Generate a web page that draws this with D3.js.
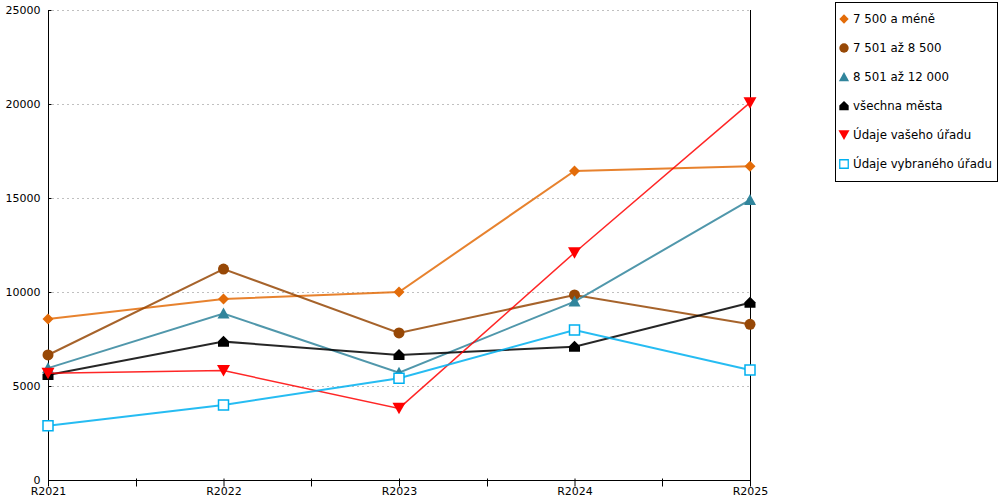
<!DOCTYPE html>
<html>
<head>
<meta charset="utf-8">
<script src="https://cdn.jsdelivr.net/npm/d3@7"></script>
<style>
  body { margin: 0; background: #fff; }
  svg text { font-family: "DejaVu Sans", Verdana, sans-serif; }
</style>
</head>
<body>
<div id="chart"></div>
<script>
// Line chart: values by town size group, years R2021..R2025

const years = ["R2021", "R2022", "R2023", "R2024", "R2025"];
const yTicks = [0, 5000, 10000, 15000, 20000, 25000];

const seriesNames = [
    "7 500 a méně",
    "7 501 až 8 500",
    "8 501 až 12 000",
    "všechna města",
    "Údaje vašeho úřadu",
    "Údaje vybraného úřadu"
];

const valsSmall = [8560, 9630, 10000, 16440, 16690];
const valsMid = [6650, 11220, 7820, 9840, 8280];
const valsLarge = [5950, 8850, 5710, 9490, 14900];
const valsAll = [5590, 7360, 6650, 7090, 9430];
const valsYours = [5680, 5820, 3810, 12090, 20070];
const valsSelected = [2890, 3990, 5410, 7980, 5850];

const seriesValues = [valsSmall, valsMid, valsLarge, valsAll, valsYours, valsSelected];
const colors = ["#E36C09", "#974806", "#31859C", "#000000", "#FF0000", "#00B0F0"];
const lineWidths = [2, 2, 2, 2, 1.5, 2];
const markers = ["diamond", "circle", "triangle", "house", "down", "square"];

const width = 1000, height = 500;
const margin = { left: 48, right: 250, top: 10, bottom: 20 };

const svg = d3.select("#chart").append("svg")
    .attr("width", width)
    .attr("height", height);

const x = d3.scalePoint()
    .domain(years)
    .range([margin.left, width - margin.right]);

const y = d3.scaleLinear()
    .domain([0, 25000])
    .range([height - margin.bottom, margin.top]);

// marker shapes, centered on 0,0
function markerPath(type) {
    switch (type) {
        case "diamond": return "M0,-5.5L5.5,0L0,5.5L-5.5,0Z";
        case "circle": return d3.symbol(d3.symbolCircle, Math.PI * 5.5 * 5.5)();
        case "triangle": return "M0,-6L6,5L-6,5Z";
        case "house": return "M0,-6L5.5,-0.5L5.5,5L-5.5,5L-5.5,-0.5Z";
        case "down": return "M-6.5,-5.5L6.5,-5.5L0,6Z";
        case "square": return "M-5,-5L5,-5L5,5L-5,5Z";
    }
}

// grid lines
svg.append("g")
    .selectAll("line")
    .data(yTicks.filter(d => d > 0))
    .enter()
    .append("line")
    .attr("x1", x.range()[0] + 4)
    .attr("x2", x.range()[1])
    .attr("y1", d => y(d) + 0.5)
    .attr("y2", d => y(d) + 0.5)
    .attr("stroke", "#c0c0c0")
    .attr("stroke-dasharray", "2,3");

// y axis
const yAxis = svg.append("g")
    .attr("transform", `translate(${margin.left + 0.5},0)`)
    .call(d3.axisLeft(y).tickValues(yTicks).tickFormat(d3.format("d")).tickSize(5).tickSizeOuter(0));
yAxis.select(".domain").attr("d", `M0,${y(25000)}V${y(0) + 6}`);
yAxis.selectAll(".tick line").attr("x2", 3);
yAxis.selectAll("text").style("font-size", "11px").attr("fill", "#000").attr("x", -8);

// secondary vertical line on the right
svg.append("line")
    .attr("x1", x.range()[1] + 0.5)
    .attr("x2", x.range()[1] + 0.5)
    .attr("y1", y(25000))
    .attr("y2", y(0) + 6)
    .attr("stroke", "#000");

// x axis
const xAxis = svg.append("g")
    .attr("transform", `translate(0,${y(0) + 0.5})`)
    .call(d3.axisBottom(x).tickSize(6).tickSizeOuter(0));
xAxis.select(".domain").attr("d", `M${x.range()[0]},0H${x.range()[1]}`);
xAxis.selectAll(".tick line").attr("y1", -2);
xAxis.selectAll("text").style("font-size", "11px").attr("fill", "#000").attr("dy", "0.5em");

// midpoint ticks between categories
const mids = years.slice(1).map((d, i) => (x(years[i]) + x(d)) / 2);
xAxis.selectAll(".mid")
    .data(mids)
    .enter()
    .append("line")
    .attr("class", "mid")
    .attr("x1", d => Math.round(d) + 0.5)
    .attr("x2", d => Math.round(d) + 0.5)
    .attr("y1", -2)
    .attr("y2", 6)
    .attr("stroke", "#000");

// series
const line = d3.line()
    .x((d, i) => x(years[i]))
    .y(d => y(d));

seriesValues.forEach((vals, s) => {
    const g = svg.append("g");
    g.append("path")
        .datum(vals)
        .attr("d", line)
        .attr("fill", "none")
        .attr("stroke", colors[s])
        .attr("stroke-width", lineWidths[s])
        .attr("stroke-opacity", 0.85);

    g.selectAll("path.marker")
        .data(vals)
        .enter()
        .append("path")
        .attr("class", "marker")
        .attr("d", markerPath(markers[s]))
        .attr("transform", (d, i) => `translate(${x(years[i])},${y(d)})`)
        .attr("fill", markers[s] === "square" ? "#fff" : colors[s])
        .attr("stroke", markers[s] === "square" ? colors[s] : "none")
        .attr("stroke-width", 1.5);
});

// legend
const legend = svg.append("g");
legend.append("rect")
    .attr("x", 835.5)
    .attr("y", 2.5)
    .attr("width", 162)
    .attr("height", 179)
    .attr("fill", "#fff")
    .attr("stroke", "#000");

const items = legend.selectAll("g.item")
    .data(seriesNames)
    .enter()
    .append("g")
    .attr("class", "item")
    .attr("transform", (d, i) => `translate(844,${19 + i * 29})`);

items.append("path")
    .attr("d", (d, i) => markerPath(markers[i]))
    .attr("transform", "scale(0.85)")
    .attr("fill", (d, i) => markers[i] === "square" ? "#fff" : colors[i])
    .attr("stroke", (d, i) => markers[i] === "square" ? colors[i] : "none")
    .attr("stroke-width", 1.5);

items.append("text")
    .attr("x", 9)
    .attr("dy", "0.35em")
    .style("font-size", "11.8px")
    .text(d => d);
</script>
</body>
</html>
